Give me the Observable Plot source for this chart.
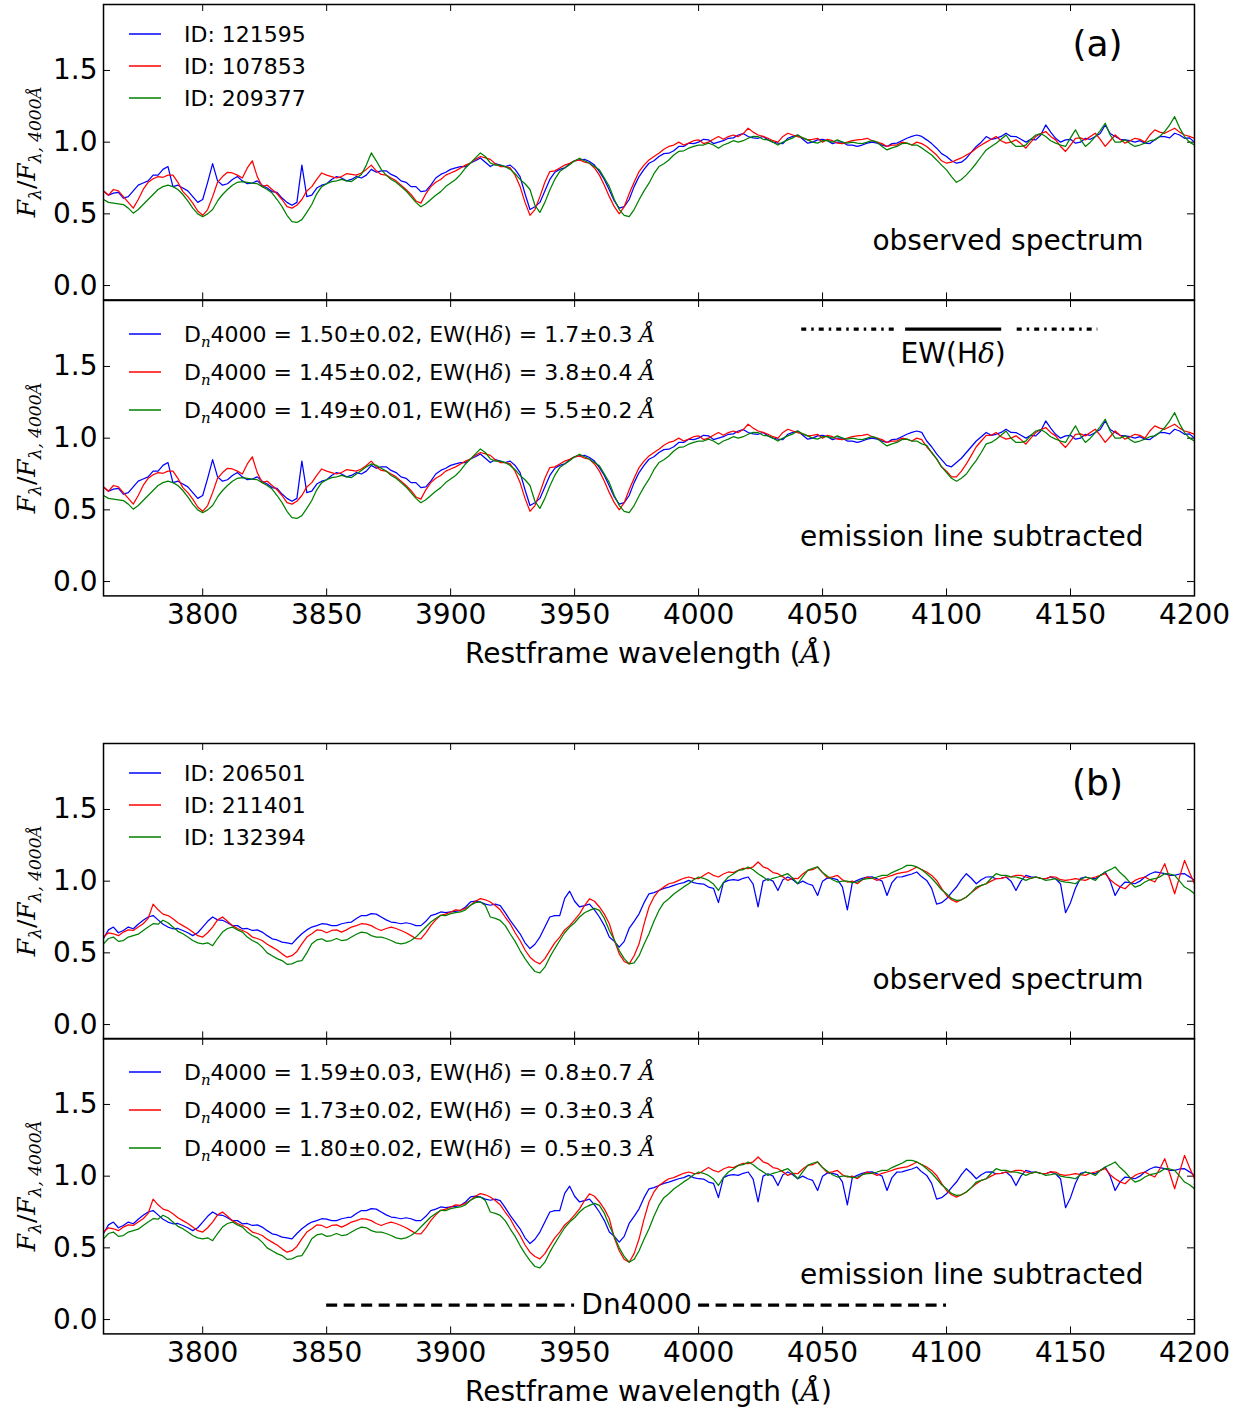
<!DOCTYPE html>
<html><head><meta charset="utf-8">
<script src="https://cdn.jsdelivr.net/npm/d3@7"></script>
<script src="https://cdn.jsdelivr.net/npm/@observablehq/plot@0.6"></script>
<style>
body{margin:0;background:#fff;}
#fig{position:relative;width:1238px;height:1412px;overflow:hidden;font-family:"DejaVu Sans";background:#fff;}
#fig svg{position:absolute;left:0;}
</style></head><body><div id="fig"></div>
<script>
// ---------- data ----------
const wavelength = [
3760,3764,3768,3772,3776,3780,3784,3788,3792,3796,
3800,3804,3808,3812,3816,3820,3824,3828,3832,3836,
3840,3844,3848,3852,3856,3860,3864,3868,3872,3876,
3880,3884,3888,3892,3896,3900,3904,3908,3912,3916,
3920,3924,3928,3932,3936,3940,3944,3948,3952,3956,
3960,3964,3968,3972,3976,3980,3984,3988,3992,3996,
4000,4004,4008,4012,4016,4020,4024,4028,4032,4036,
4040,4044,4048,4052,4056,4060,4064,4068,4072,4076,
4080,4084,4088,4092,4096,4100,4104,4108,4112,4116,
4120,4124,4128,4132,4136,4140,4144,4148,4152,4156,
4160,4164,4168,4172,4176,4180,4184,4188,4192,4196,
4200];
const wavelengthMid = [
3762,3766,3770,3774,3778,3782,3786,3790,3794,3798,
3802,3806,3810,3814,3818,3822,3826,3830,3834,3838,
3842,3846,3850,3854,3858,3862,3866,3870,3874,3878,
3882,3886,3890,3894,3898,3902,3906,3910,3914,3918,
3922,3926,3930,3934,3938,3942,3946,3950,3954,3958,
3962,3966,3970,3974,3978,3982,3986,3990,3994,3998,
4002,4006,4010,4014,4018,4022,4026,4030,4034,4038,
4042,4046,4050,4054,4058,4062,4066,4070,4074,4078,
4082,4086,4090,4094,4098,4102,4106,4110,4114,4118,
4122,4126,4130,4134,4138,4142,4146,4150,4154,4158,
4162,4166,4170,4174,4178,4182,4186,4190,4194,4198];

// panel (a), observed: values at wavelength and at wavelengthMid
const aBlue = [
0.66,0.645,0.61,0.66,0.715,0.77,0.81,0.69,0.68,0.62,
0.60,0.85,0.70,0.74,0.73,0.715,0.70,0.655,0.61,0.56,
0.84,0.63,0.70,0.74,0.75,0.74,0.75,0.81,0.80,0.775,
0.73,0.69,0.655,0.70,0.775,0.81,0.83,0.855,0.89,0.83,
0.84,0.84,0.76,0.53,0.58,0.74,0.81,0.85,0.876,0.865,
0.795,0.667,0.54,0.60,0.76,0.853,0.90,0.923,0.97,0.993,
1.0,1.016,1.0,1.027,1.05,1.039,1.027,1.016,0.993,1.027,
1.05,0.993,1.016,1.01,1.0,0.98,0.97,0.993,0.993,0.97,
0.993,1.027,1.05,1.016,0.958,0.90,0.853,0.888,0.97,1.039,
1.027,1.062,1.039,1.0,1.016,1.12,1.027,1.016,0.993,1.027,
1.039,1.12,1.039,1.016,1.0,0.993,1.016,1.039,1.062,1.027,
1.0];
const aBlueMid = [
0.63,0.65,0.62,0.70,0.73,0.77,0.83,0.70,0.66,0.58,
0.72,0.73,0.71,0.76,0.71,0.73,0.68,0.65,0.58,0.58,
0.62,0.68,0.71,0.76,0.73,0.76,0.77,0.79,0.80,0.76,
0.72,0.69,0.66,0.75,0.79,0.82,0.83,0.87,0.86,0.85,
0.83,0.81,0.64,0.55,0.66,0.79,0.82,0.87,0.88,0.84,
0.74,0.59,0.55,0.69,0.81,0.87,0.92,0.94,0.97,0.99,
1.02,0.99,1.01,1.03,1.06,1.03,1.04,1.0,0.99,1.04,
1.02,1.0,1.02,0.99,1.0,0.98,0.98,1.0,0.98,0.99,
1.01,1.04,1.04,0.99,0.92,0.87,0.86,0.93,1.0,1.02,
1.04,1.04,1.02,1.02,1.05,1.07,1.0,1.02,1.0,1.02,
1.06,1.06,1.02,1.01,1.01,0.99,1.04,1.03,1.05,1.03];
const aRed = [
0.66,0.67,0.62,0.54,0.67,0.745,0.755,0.77,0.655,0.575,
0.49,0.62,0.76,0.785,0.75,0.87,0.69,0.67,0.60,0.54,
0.60,0.69,0.785,0.76,0.76,0.775,0.785,0.84,0.775,0.75,
0.70,0.635,0.575,0.69,0.74,0.785,0.82,0.855,0.90,0.88,
0.83,0.82,0.69,0.49,0.62,0.795,0.82,0.853,0.876,0.853,
0.77,0.62,0.50,0.64,0.795,0.876,0.923,0.97,1.0,0.993,
1.016,1.0,1.039,1.039,1.039,1.097,1.05,1.027,1.0,1.062,
1.039,1.016,1.027,1.02,0.993,1.0,1.016,1.027,1.0,0.97,
0.98,0.993,1.0,0.97,0.91,0.853,0.876,0.91,0.958,1.0,
1.039,0.993,1.016,0.958,1.039,1.074,1.016,0.935,1.027,1.016,
1.062,0.97,1.05,0.993,1.027,1.0,1.086,1.062,1.097,1.05,
1.027];
const aRedMid = [
0.63,0.66,0.58,0.60,0.72,0.76,0.77,0.72,0.62,0.52,
0.53,0.72,0.79,0.77,0.82,0.76,0.70,0.64,0.55,0.56,
0.66,0.74,0.77,0.75,0.78,0.77,0.81,0.80,0.77,0.73,
0.67,0.59,0.64,0.72,0.77,0.80,0.84,0.88,0.89,0.85,
0.83,0.77,0.58,0.53,0.72,0.80,0.84,0.87,0.86,0.82,
0.70,0.55,0.55,0.72,0.84,0.90,0.95,0.98,0.98,1.01,
0.99,1.02,1.02,1.05,1.06,1.07,1.04,1.01,1.04,1.05,
1.03,1.02,1.0,1.01,0.99,1.01,1.02,1.01,0.99,0.98,
1.0,0.98,0.99,0.94,0.87,0.86,0.89,0.93,0.98,1.02,
1.01,1.0,0.99,1.0,1.06,1.04,0.97,0.98,1.03,1.04,
1.02,1.01,1.02,1.01,1.02,1.05,1.07,1.08,1.07,1.04];
const aGreen = [
0.60,0.575,0.565,0.505,0.565,0.635,0.69,0.69,0.635,0.54,
0.48,0.53,0.635,0.70,0.725,0.715,0.69,0.645,0.55,0.445,
0.46,0.565,0.69,0.725,0.74,0.725,0.775,0.925,0.81,0.74,
0.69,0.62,0.55,0.60,0.655,0.715,0.775,0.855,0.925,0.855,
0.84,0.81,0.74,0.67,0.51,0.667,0.795,0.842,0.888,0.853,
0.807,0.69,0.53,0.48,0.598,0.714,0.83,0.876,0.935,0.958,
0.98,0.993,0.958,0.993,1.0,1.027,1.039,1.016,0.98,1.016,
1.05,1.016,0.993,1.01,1.016,0.993,0.993,1.0,1.0,0.946,
0.97,0.993,0.98,0.935,0.876,0.807,0.72,0.772,0.853,0.946,
0.993,1.05,0.97,0.98,1.05,1.039,0.993,0.97,1.086,0.97,
1.039,1.132,1.0,1.016,0.97,0.993,1.016,1.074,1.178,1.039,
0.98];
const aGreenMid = [
0.58,0.57,0.54,0.53,0.60,0.67,0.70,0.67,0.59,0.50,
0.50,0.59,0.67,0.72,0.72,0.71,0.67,0.60,0.49,0.44,
0.51,0.64,0.71,0.73,0.73,0.75,0.84,0.87,0.77,0.72,
0.66,0.58,0.57,0.63,0.69,0.74,0.82,0.89,0.90,0.84,
0.83,0.78,0.71,0.56,0.58,0.74,0.82,0.87,0.87,0.83,
0.75,0.60,0.49,0.53,0.66,0.78,0.85,0.91,0.94,0.97,
0.98,0.98,0.98,1.01,1.01,1.04,1.02,1.0,1.0,1.03,
1.03,1.0,1.01,1.0,1.0,1.0,0.99,1.01,0.97,0.96,
0.99,0.98,0.96,0.91,0.84,0.76,0.74,0.81,0.90,0.97,
1.02,1.0,0.97,1.02,1.06,1.01,0.98,1.03,1.02,1.0,
1.08,1.05,1.0,0.99,0.98,1.01,1.04,1.12,1.10,1.0];
// panel (a), values that change after emission-line subtraction [wavelength, value]
const aBlueSub = [[4092,0.98],[4094,0.94],[4096,0.89],[4098,0.85],[4100,0.81],[4102,0.80],[4104,0.83],[4106,0.86],[4108,0.90],[4110,0.94],[4112,0.98],[4114,1.01],[4116,1.04]];
const aRedSub = [[4092,0.94],[4094,0.90],[4096,0.855],[4098,0.80],[4100,0.77],[4102,0.73],[4104,0.73],[4106,0.77],[4108,0.82],[4110,0.88],[4112,0.94],[4114,0.98],[4116,1.02]];
const aGreenSub = [[3866,0.80],[3868,0.82],[3870,0.81],[3872,0.79],[4092,0.95],[4094,0.90],[4096,0.855],[4098,0.80],[4100,0.76],[4102,0.72],[4104,0.70],[4106,0.72],[4108,0.75],[4110,0.80],[4112,0.845],[4114,0.90],[4116,0.96]];

// panel (b), observed
const bBlue = [
0.60,0.68,0.656,0.668,0.727,0.76,0.70,0.668,0.656,0.62,
0.68,0.75,0.727,0.69,0.668,0.656,0.645,0.598,0.575,0.563,
0.633,0.68,0.703,0.69,0.703,0.715,0.76,0.773,0.75,0.715,
0.703,0.703,0.69,0.76,0.785,0.785,0.797,0.855,0.855,0.832,
0.83,0.726,0.633,0.53,0.61,0.75,0.76,0.93,0.82,0.84,
0.75,0.61,0.54,0.67,0.772,0.912,0.935,0.959,0.982,1.005,
0.982,0.959,0.85,1.005,1.005,1.029,0.82,1.017,0.935,1.029,
0.982,0.982,0.90,1.023,1.01,0.80,1.005,1.029,1.017,0.90,
1.029,1.04,1.064,1.005,0.84,0.877,0.959,1.052,0.982,1.029,
1.017,1.029,0.935,1.04,1.029,1.017,1.017,0.78,0.95,1.029,
1.017,1.064,0.90,0.994,0.982,1.029,1.064,1.052,1.04,1.052,
1.005];
const bBlueMid = [
0.66,0.64,0.68,0.70,0.75,0.73,0.68,0.67,0.64,0.64,
0.72,0.73,0.71,0.69,0.67,0.66,0.62,0.59,0.57,0.60,
0.66,0.69,0.70,0.69,0.71,0.74,0.76,0.77,0.73,0.71,
0.71,0.69,0.72,0.77,0.78,0.79,0.82,0.86,0.84,0.84,
0.78,0.68,0.57,0.56,0.68,0.76,0.88,0.86,0.83,0.80,
0.69,0.58,0.58,0.72,0.85,0.92,0.95,0.97,0.99,0.99,
0.98,0.95,0.99,1.01,1.02,0.98,1.0,1.0,1.01,1.01,
1.0,0.97,1.0,1.02,0.96,0.99,1.02,1.03,1.0,0.99,
1.03,1.05,1.03,0.95,0.85,0.92,1.01,1.02,1.01,1.03,
1.02,1.0,1.0,1.03,1.02,1.03,0.98,0.85,1.02,1.02,
1.04,1.0,0.96,0.99,1.0,1.05,1.06,1.04,1.05,1.03];
const bRed = [
0.61,0.633,0.645,0.656,0.703,0.84,0.77,0.738,0.69,0.645,
0.61,0.68,0.75,0.69,0.656,0.61,0.586,0.54,0.493,0.48,
0.563,0.633,0.656,0.656,0.645,0.68,0.703,0.69,0.656,0.68,
0.656,0.62,0.598,0.69,0.762,0.785,0.797,0.832,0.878,0.855,
0.80,0.703,0.586,0.47,0.423,0.516,0.61,0.69,0.772,0.877,
0.82,0.703,0.493,0.423,0.563,0.82,0.935,0.982,1.005,1.029,
1.017,1.06,1.029,1.064,1.075,1.087,1.134,1.087,1.052,1.005,
1.017,1.075,1.099,1.023,1.04,0.994,0.982,1.029,1.005,1.029,
1.052,1.064,1.099,1.064,1.005,0.90,0.854,0.889,0.947,0.982,
1.017,1.029,1.04,1.029,1.029,1.017,1.029,1.005,1.017,1.005,
1.029,1.052,0.982,0.947,1.005,1.029,0.994,1.122,0.912,1.145,
0.982];
const bRedMid = [
0.64,0.62,0.66,0.68,0.74,0.80,0.76,0.71,0.67,0.62,
0.64,0.73,0.72,0.67,0.64,0.60,0.56,0.52,0.47,0.51,
0.61,0.66,0.64,0.66,0.66,0.69,0.70,0.67,0.67,0.67,
0.64,0.60,0.64,0.73,0.77,0.80,0.81,0.86,0.87,0.83,
0.75,0.64,0.52,0.44,0.46,0.57,0.66,0.73,0.83,0.86,
0.77,0.59,0.44,0.48,0.70,0.89,0.96,0.99,1.02,1.02,
1.04,1.04,1.05,1.06,1.09,1.10,1.10,1.06,1.03,1.02,
1.05,1.08,1.06,1.03,1.01,1.0,1.01,1.02,1.02,1.04,
1.06,1.08,1.08,1.04,0.95,0.87,0.87,0.92,0.97,1.0,
1.02,1.03,1.04,1.02,1.02,1.03,1.01,1.01,1.01,1.02,
1.04,1.01,0.96,0.98,1.02,1.01,1.05,1.02,1.03,1.06];
const bGreen = [
0.563,0.61,0.586,0.62,0.656,0.703,0.727,0.68,0.633,0.586,
0.563,0.55,0.645,0.68,0.645,0.586,0.54,0.48,0.446,0.423,
0.446,0.563,0.598,0.586,0.586,0.61,0.645,0.62,0.61,0.586,
0.563,0.586,0.645,0.715,0.762,0.773,0.785,0.832,0.855,0.75,
0.726,0.633,0.516,0.411,0.36,0.47,0.586,0.68,0.75,0.796,
0.796,0.656,0.516,0.423,0.48,0.633,0.796,0.877,0.935,0.982,
1.029,1.005,0.935,1.029,1.075,1.099,1.052,1.005,1.029,1.052,
0.982,1.075,1.099,1.035,0.994,1.0,0.994,1.017,1.029,1.04,
1.075,1.11,1.099,1.052,0.982,0.912,0.866,0.889,0.959,0.982,
1.052,1.04,1.029,1.005,1.029,1.005,1.017,0.994,0.982,1.029,
1.005,1.064,1.099,1.029,0.959,0.994,1.017,1.052,1.04,0.959,
0.912];
const bGreenMid = [
0.60,0.58,0.61,0.63,0.68,0.70,0.71,0.65,0.61,0.57,
0.57,0.60,0.67,0.66,0.61,0.57,0.50,0.46,0.42,0.44,
0.50,0.59,0.58,0.60,0.59,0.63,0.64,0.61,0.60,0.57,
0.57,0.61,0.68,0.74,0.76,0.78,0.80,0.85,0.83,0.74,
0.69,0.58,0.46,0.37,0.40,0.53,0.64,0.71,0.78,0.81,
0.74,0.59,0.46,0.43,0.56,0.72,0.85,0.91,0.96,1.01,
1.02,0.98,0.99,1.05,1.08,1.08,1.03,1.02,1.04,1.02,
1.03,1.09,1.06,1.01,1.0,0.99,1.01,1.02,1.04,1.06,
1.09,1.11,1.08,1.02,0.94,0.88,0.87,0.92,0.97,1.02,
1.04,1.03,1.02,1.02,1.02,1.01,1.0,0.99,1.01,1.02,
1.04,1.08,1.06,0.99,0.97,1.01,1.03,1.05,1.0,0.94];
const bBlueSub = [], bRedSub = [[3966,0.57],[3968,0.48],[3970,0.42],[3972,0.40],[3974,0.46]], bGreenSub = [[3966,0.58],[3968,0.50],[3970,0.44],[3972,0.40],[3974,0.42]];

const seriesColors = ["#0000ff", "#ff0000", "#008000"];
const idsA = ["ID: 121595", "ID: 107853", "ID: 209377"];
const idsB = ["ID: 206501", "ID: 211401", "ID: 132394"];
// [Dn4000, err, EW(Hdelta), err]
const indicesA = [["1.50","0.02","1.7","0.3"], ["1.45","0.02","3.8","0.4"], ["1.49","0.01","5.5","0.2"]];
const indicesB = [["1.59","0.03","0.8","0.7"], ["1.73","0.02","0.3","0.3"], ["1.80","0.02","0.5","0.3"]];
const xTicks = [3800, 3850, 3900, 3950, 4000, 4050, 4100, 4150, 4200];
const yTicks = [0, 0.5, 1.0, 1.5];
const xDomain = [3760, 4200];
const yDomain = [-0.1, 1.96];
// index band definitions (Angstrom) and the level where they are drawn
const hdBlueBand = [4041.6, 4079.75], hdLineBand = [4083.5, 4122.25], hdRedBand = [4128.5, 4161.0];
const hdLevel = 1.76;
const dnBlueBand = [3850, 3950], dnRedBand = [4000, 4100];
const dnLevel = 0.1;

// ---------- build ----------
function rows(vals, mids, subs) {
  const o = new Map(subs || []);
  const out = [];
  wavelength.forEach((w, i) => {
    out.push({lambda: w, value: o.has(w) ? o.get(w) : vals[i]});
    if (i < wavelengthMid.length) {
      const m = wavelengthMid[i];
      out.push({lambda: m, value: o.has(m) ? o.get(m) : mids[i]});
    }
  });
  return out;
}
const fig = document.getElementById("fig");
const W = 1238, ML = 103, MR = 44, innerW = W - ML - MR, innerH = 295.4, MT = 10;

function rich(sel, x, y, parts, size, anchor, transform) {
  const t = sel.append("text").attr("x", x).attr("y", y)
    .attr("font-family", "DejaVu Sans").attr("font-size", size)
    .attr("text-anchor", anchor || "start").attr("fill", "black");
  if (transform) t.attr("transform", transform);
  let shift = 0;
  for (const p of parts) {
    const ts = t.append("tspan").text(p.t);
    const target = p.sub || 0;
    if (target !== shift) { ts.attr("dy", target - shift); shift = target; }
    if (p.size) ts.attr("font-size", p.size);
    if (p.it) ts.attr("font-style", "italic");
    if (p.serif) ts.attr("font-family", "DejaVu Serif");
  }
  return t;
}

const panels = [
  {top: 4.3, series: [rows(aBlue, aBlueMid), rows(aRed, aRedMid), rows(aGreen, aGreenMid)], legend: "id", labels: idsA, tag: "(a)", note: "observed spectrum", xaxis: false},
  {top: 299.7, series: [rows(aBlue, aBlueMid, aBlueSub), rows(aRed, aRedMid, aRedSub), rows(aGreen, aGreenMid, aGreenSub)], legend: "idx", labels: indicesA, note: "emission line subtracted", xaxis: true, hd: true},
  {top: 743.3, series: [rows(bBlue, bBlueMid), rows(bRed, bRedMid), rows(bGreen, bGreenMid)], legend: "id", labels: idsB, tag: "(b)", note: "observed spectrum", xaxis: false},
  {top: 1037.9, series: [rows(bBlue, bBlueMid, bBlueSub), rows(bRed, bRedMid, bRedSub), rows(bGreen, bGreenMid, bGreenSub)], legend: "idx", labels: indicesB, note: "emission line subtracted", xaxis: true, dn: true}
];

for (const p of panels) {
  const MB = p.xaxis ? 85 : 10;
  const marks = [
    Plot.tickX(xTicks, {x: d => d, insetTop: innerH - 7, stroke: "black", strokeWidth: 1}),
    Plot.tickX(xTicks, {x: d => d, insetBottom: innerH - 7, stroke: "black", strokeWidth: 1}),
    Plot.tickY(yTicks, {y: d => d, insetRight: innerW - 7, stroke: "black", strokeWidth: 1}),
    Plot.tickY(yTicks, {y: d => d, insetLeft: innerW - 7, stroke: "black", strokeWidth: 1}),
    Plot.axisY({ticks: yTicks, tickSize: 0, tickPadding: 6, tickFormat: d3.format(".1f"), fontSize: 28, label: null}),
    ...p.series.map((s, i) => Plot.line(s, {x: "lambda", y: "value", stroke: seriesColors[i], strokeWidth: 1.25, clip: true})),
    Plot.frame({stroke: "black", strokeWidth: 1.5}),
    Plot.text([p.note], {text: d => d, frameAnchor: "bottom-right", dx: -51, dy: -59, fontSize: 28, textAnchor: "end", lineAnchor: "middle", fill: "black"})
  ];
  if (p.tag) marks.push(Plot.text([p.tag], {text: d => d, frameAnchor: "top-right", dx: -97, dy: 40, fontSize: 36, textAnchor: "middle", lineAnchor: "middle", fill: "black"}));
  if (p.xaxis) marks.push(Plot.axisX({ticks: xTicks, tickSize: 0, tickPadding: 8, tickFormat: d => String(d), fontSize: 28, label: null}));
  if (p.hd) {
    marks.push(Plot.ruleY([{x1: hdBlueBand[0], x2: hdBlueBand[1], y: hdLevel}, {x1: hdRedBand[0], x2: hdRedBand[1], y: hdLevel}],
      {x1: "x1", x2: "x2", y: "y", stroke: "black", strokeWidth: 3.3, strokeDasharray: "5,5,2.5,5"}));
    marks.push(Plot.ruleY([{x1: hdLineBand[0], x2: hdLineBand[1], y: hdLevel}], {x1: "x1", x2: "x2", y: "y", stroke: "black", strokeWidth: 3.3}));
  }
  if (p.dn) {
    marks.push(Plot.ruleY([{x1: dnBlueBand[0], x2: dnBlueBand[1], y: dnLevel}, {x1: dnRedBand[0], x2: dnRedBand[1], y: dnLevel}],
      {x1: "x1", x2: "x2", y: "y", stroke: "black", strokeWidth: 3.3, strokeDasharray: "11,6.5"}));
    marks.push(Plot.text([{x: (dnBlueBand[1] + dnRedBand[0]) / 2, y: dnLevel, t: "Dn4000"}], {x: "x", y: "y", text: "t", fontSize: 28, lineAnchor: "middle", textAnchor: "middle", fill: "black"}));
  }
  const svgEl = Plot.plot({
    width: W, height: MT + innerH + MB,
    marginLeft: ML, marginRight: MR, marginTop: MT, marginBottom: MB,
    x: {domain: xDomain, axis: null},
    y: {domain: yDomain, axis: null},
    style: {background: "transparent", overflow: "visible", maxWidth: "none", fontFamily: "DejaVu Sans", color: "black"},
    marks
  });
  svgEl.style.position = "absolute";
  svgEl.style.top = (p.top - MT) + "px";
  fig.appendChild(svgEl);
  const sx = svgEl.scale("x"), sy = svgEl.scale("y");
  const svg = d3.select(svgEl);
  const g = svg.append("g");

  // legend
  const rowsY = p.legend === "id" ? [30, 62, 94] : [34, 72, 110];
  p.labels.forEach((lab, i) => {
    const cy = MT + rowsY[i];
    g.append("line").attr("x1", 129).attr("x2", 161).attr("y1", cy).attr("y2", cy)
      .attr("stroke", seriesColors[i]).attr("stroke-width", 1.3);
    if (p.legend === "id") {
      rich(g, 184, cy + 8, [{t: lab}], 22);
    } else {
      rich(g, 184, cy + 8, [
        {t: "D"}, {t: "n", sub: 5, size: 15, it: true, serif: true},
        {t: "4000 = " + lab[0] + "±" + lab[1] + ", EW(H"}, {t: "δ", it: true, serif: true},
        {t: ") = " + lab[2] + "±" + lab[3] + " "}, {t: "Å", it: true, serif: true}
      ], 22);
    }
  });

  // y label
  const cyMid = MT + innerH / 2;
  rich(g, 35, cyMid, [
    {t: "F", it: true, serif: true, size: 25},
    {t: "λ", sub: 6, size: 17, it: true, serif: true},
    {t: "/", size: 25, serif: true},
    {t: "F", it: true, serif: true, size: 25},
    {t: "λ, 4000Å", sub: 6, size: 17, it: true, serif: true}
  ], 25, "middle", `rotate(-90,35,${cyMid})`);

  // x label
  if (p.xaxis) {
    rich(g, ML + innerW / 2, MT + innerH + 68, [
      {t: "Restframe wavelength ("}, {t: "Å", it: true, serif: true}, {t: ")"}
    ], 28, "middle");
  }
  // EW(Hdelta) label
  if (p.hd) {
    rich(g, sx.apply((hdLineBand[0] + hdLineBand[1]) / 2), sy.apply(hdLevel) + 34, [
      {t: "EW(H"}, {t: "δ", it: true, serif: true}, {t: ")"}
    ], 28, "middle");
  }
}
</script></body></html>
